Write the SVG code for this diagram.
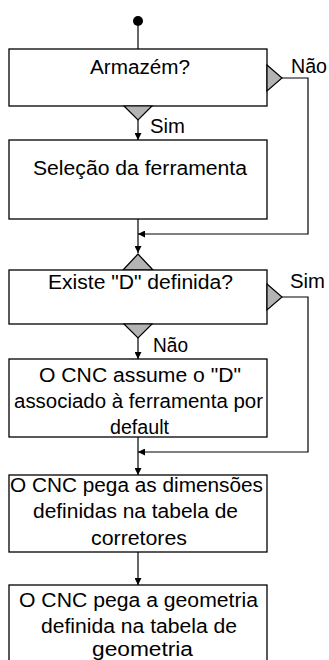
<svg xmlns="http://www.w3.org/2000/svg" width="329" height="660" viewBox="0 0 329 660">
<style>
.box{fill:#fff;stroke:#000;stroke-width:1.3}
.tri{fill:#b3b3b3;stroke:#000;stroke-width:1.2;stroke-linejoin:miter}
.ln{fill:none;stroke:#000;stroke-width:1.2}
text{font-family:"Liberation Sans",Arial,sans-serif;font-size:20px;fill:#000}
.c{text-anchor:middle}
</style>
<defs>
<marker id="ah" viewBox="0 0 10 10" refX="10" refY="5" markerWidth="7" markerHeight="7" markerUnits="userSpaceOnUse" orient="auto">
<path d="M0,0 L10,5 L0,10 z" fill="#000"/>
</marker>
</defs>
<rect width="329" height="660" fill="#fff"/>
<g id="connectors">
<circle cx="138" cy="21" r="5" fill="#000"/>
<path class="ln" d="M138,26 V49"/>
<path class="ln" d="M138,120 V140" marker-end="url(#ah)"/>
<path class="ln" d="M282,78 H308 V234 H138" marker-end="url(#ah)"/>
<path class="ln" d="M138,219 V253" marker-end="url(#ah)"/>
<path class="ln" d="M138,338 V359" marker-end="url(#ah)"/>
<path class="ln" d="M282,297 H308 V452 H138" marker-end="url(#ah)"/>
<path class="ln" d="M138,437 V475" marker-end="url(#ah)"/>
<path class="ln" d="M138,552 V585" marker-end="url(#ah)"/>
<text x="291" y="73" textLength="36" lengthAdjust="spacingAndGlyphs">Não</text>
<text x="150" y="133" textLength="35" lengthAdjust="spacingAndGlyphs">Sim</text>
<text x="290" y="288" textLength="35" lengthAdjust="spacingAndGlyphs">Sim</text>
<text x="153" y="352" textLength="35" lengthAdjust="spacingAndGlyphs">Não</text>
</g>
<g id="n1">
<rect class="box" x="9" y="49" width="258" height="57"/>
<text class="c" x="140" y="74" textLength="100" lengthAdjust="spacingAndGlyphs">Armazém?</text>
<polygon class="tri" points="267,65 282,78 267,91"/>
<polygon class="tri" points="124,106 152,106 138,120"/>
</g>
<g id="n2">
<rect class="box" x="9" y="140" width="258" height="79"/>
<text class="c" x="140" y="175" textLength="214" lengthAdjust="spacingAndGlyphs">Seleção da ferramenta</text>
</g>
<g id="n3">
<polygon class="tri" points="123,270 138,254 153,270"/>
<rect class="box" x="9" y="270" width="258" height="54"/>
<text class="c" x="140.5" y="289" textLength="185" lengthAdjust="spacingAndGlyphs">Existe "D" definida?</text>
<polygon class="tri" points="267,284 282,297 267,310"/>
<polygon class="tri" points="124,324 152,324 138,338"/>
</g>
<g id="n4">
<rect class="box" x="9" y="359" width="258" height="78"/>
<text class="c" x="140" y="382" textLength="202" lengthAdjust="spacingAndGlyphs">O CNC assume o "D"</text>
<text class="c" x="138.5" y="408" textLength="249" lengthAdjust="spacingAndGlyphs">associado à ferramenta por</text>
<text class="c" x="139.5" y="434" textLength="59" lengthAdjust="spacingAndGlyphs">default</text>
</g>
<g id="n5">
<rect class="box" x="9" y="475" width="258" height="77"/>
<text class="c" x="136.5" y="492" textLength="253" lengthAdjust="spacingAndGlyphs">O CNC pega as dimensões</text>
<text class="c" x="135.5" y="518" textLength="205" lengthAdjust="spacingAndGlyphs">definidas na tabela de</text>
<text class="c" x="139" y="545" textLength="96" lengthAdjust="spacingAndGlyphs">corretores</text>
</g>
<g id="n6">
<rect class="box" x="9" y="585" width="258" height="100"/>
<text class="c" x="138.5" y="607" textLength="239" lengthAdjust="spacingAndGlyphs">O CNC pega a geometria</text>
<text class="c" x="139" y="633" textLength="196" lengthAdjust="spacingAndGlyphs">definida na tabela de</text>
<text class="c" x="142.5" y="656" textLength="101" lengthAdjust="spacingAndGlyphs">geometria</text>
</g>
</svg>
